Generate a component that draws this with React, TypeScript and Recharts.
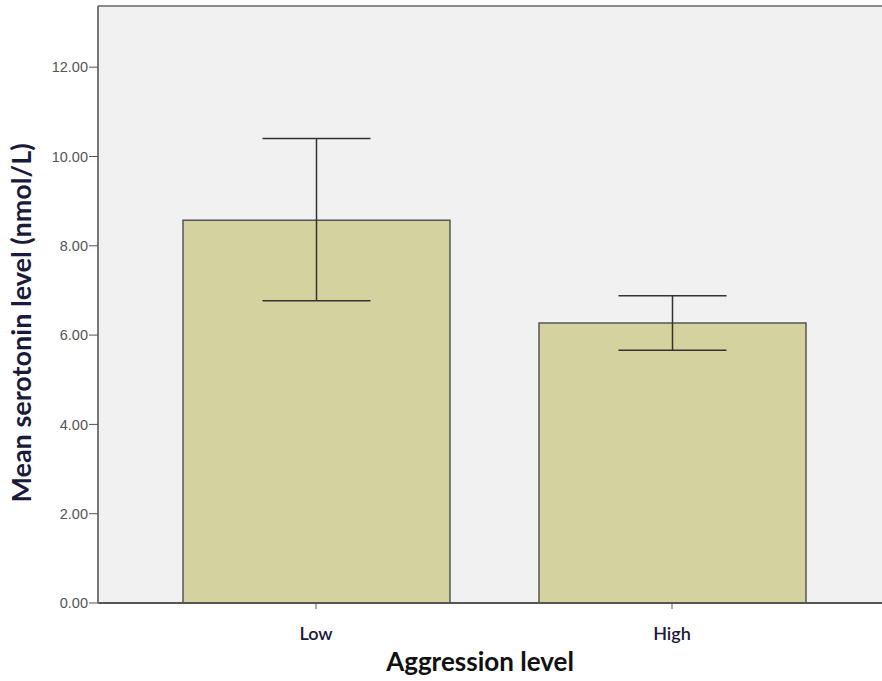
import React from 'react';
import { BarChart, Bar, XAxis, YAxis, CartesianGrid, ErrorBar, ReferenceLine, Label } from 'recharts';

const categories = ['Low', 'High'];
const means = [8.57, 6.27];
const ciLower = [6.77, 5.66];
const ciUpper = [10.4, 6.88];
const yTicks = [0, 2, 4, 6, 8, 10, 12];
const yMax = 13.37;

const data = categories.map((c, i) => ({
  name: c,
  mean: means[i],
  err: [means[i] - ciLower[i], ciUpper[i] - means[i]],
}));

const YTitle = () => (
  <text
    transform="translate(20,323) rotate(-90)"
    textAnchor="middle"
    dominantBaseline="central"
    style={{ fill: '#1a1a3a', fontSize: 27, fontWeight: 700, fontFamily: 'Lato' }}
  >
    Mean serotonin level (nmol/L)
  </text>
);

const XTitle = () => (
  <text
    x={480}
    y={671}
    textAnchor="middle"
    style={{ fill: '#111', fontSize: 26, fontWeight: 700, fontFamily: 'Lato' }}
  >
    Aggression level
  </text>
);

export default function App() {
  return (
    <div style={{ position: 'absolute', left: 0, top: 0, width: 882, height: 681, background: '#fff' }}>
      <BarChart width={882} height={681} data={data} margin={{ top: 6, right: 0, bottom: 0, left: 0 }}>
        <CartesianGrid fill="#f1f1f1" stroke="none" vertical={false} horizontal={false} />
        <ReferenceLine y={yMax} stroke="#8a8a8a" strokeWidth={2} ifOverflow="extendDomain" />
        <XAxis
          dataKey="name"
          height={78}
          padding={{ left: 40, right: 32 }}
          axisLine={{ stroke: '#555', strokeWidth: 2 }}
          tickLine={{ stroke: '#555' }}
          tickSize={6}
          tickMargin={18}
          tick={{ fill: '#1a1a3a', fontSize: 18, fontFamily: 'Lato', fontWeight: 600 }}
        >
          <Label content={<XTitle />} />
        </XAxis>
        <YAxis
          width={98}
          domain={[0, yMax]}
          ticks={yTicks}
          tickFormatter={(v: number) => v.toFixed(2)}
          axisLine={{ stroke: '#777', strokeWidth: 2 }}
          tickLine={{ stroke: '#555' }}
          tickSize={9}
          tickMargin={1}
          tick={{ fill: '#555', fontSize: 14.5, fontFamily: 'Liberation Sans' }}
        >
          <Label content={<YTitle />} />
        </YAxis>
        <Bar dataKey="mean" fill="#d4d29e" stroke="#555" strokeWidth={1.5} barSize={267} isAnimationActive={false}>
          <ErrorBar dataKey="err" width={54} stroke="#333" strokeWidth={1.5} direction="y" />
        </Bar>
      </BarChart>
    </div>
  );
}
